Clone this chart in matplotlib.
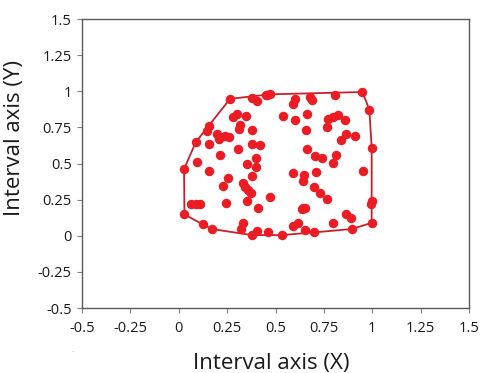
import numpy as np
import matplotlib
matplotlib.use('Agg')
import matplotlib.pyplot as plt

plt.rcParams['font.family'] = ['Open Sans', 'DejaVu Sans']

# sample points
x_vals = [0.265, 0.377, 0.406, 0.449, 0.458, 0.472, 0.279, 0.299, 0.348, 0.317,
          0.313, 0.380, 0.158, 0.148, 0.199, 0.208, 0.239, 0.261, 0.088, 0.158,
          0.308, 0.377, 0.420, 0.213, 0.399, 0.096, 0.351,
          0.949, 0.985, 0.997, 0.807, 0.601, 0.592, 0.678, 0.687, 0.540,
          0.601, 0.664, 0.658, 0.773, 0.799, 0.825, 0.859, 0.765, 0.863,
          0.837, 0.911, 0.661, 0.704, 0.739, 0.811, 0.799,
          0.027, 0.156, 0.256, 0.230, 0.399, 0.377, 0.330, 0.342, 0.356,
          0.373, 0.472, 0.244, 0.354, 0.411, 0.062, 0.088, 0.110, 0.029,
          0.124, 0.172, 0.330, 0.323, 0.377, 0.406, 0.463,
          0.954, 0.592, 0.649, 0.709, 0.642, 0.699, 0.730, 0.765, 0.997,
          0.995, 0.635, 0.652, 0.644, 0.863, 0.890, 0.615, 0.592, 0.799,
          0.997, 0.652, 0.699, 0.894, 0.532]
y_vals = [0.948, 0.955, 0.933, 0.972, 0.975, 0.979, 0.822, 0.840, 0.827, 0.768,
          0.741, 0.730, 0.760, 0.723, 0.706, 0.672, 0.690, 0.683, 0.649, 0.633,
          0.602, 0.633, 0.626, 0.561, 0.538, 0.510, 0.499,
          0.995, 0.872, 0.607, 0.972, 0.948, 0.914, 0.960, 0.942, 0.829,
          0.803, 0.845, 0.730, 0.810, 0.822, 0.834, 0.803, 0.753, 0.702,
          0.661, 0.690, 0.602, 0.550, 0.540, 0.561, 0.506,
          0.462, 0.448, 0.398, 0.344, 0.474, 0.413, 0.363, 0.339, 0.317,
          0.294, 0.270, 0.229, 0.243, 0.194, 0.218, 0.222, 0.222, 0.148,
          0.079, 0.047, 0.090, 0.045, 0.005, 0.035, 0.028,
          0.448, 0.432, 0.422, 0.439, 0.379, 0.339, 0.298, 0.254, 0.240,
          0.222, 0.183, 0.194, 0.190, 0.148, 0.125, 0.090, 0.067, 0.086,
          0.090, 0.040, 0.024, 0.047, 0.005]

tick_vals = [-0.5, -0.25, 0, 0.25, 0.5, 0.75, 1, 1.25, 1.5]
tick_labels = ['-0.5', '-0.25', '0', '0.25', '0.5', '0.75', '1', '1.25', '1.5']


def convex_hull(pts):
    # monotone chain
    pts = sorted(set(pts))
    def cross(o, a, b):
        return (a[0] - o[0]) * (b[1] - o[1]) - (a[1] - o[1]) * (b[0] - o[0])
    lower, upper = [], []
    for p in pts:
        while len(lower) >= 2 and cross(lower[-2], lower[-1], p) <= 0:
            lower.pop()
        lower.append(p)
    for p in reversed(pts):
        while len(upper) >= 2 and cross(upper[-2], upper[-1], p) <= 0:
            upper.pop()
        upper.append(p)
    return lower[:-1] + upper[:-1]


hull = convex_hull(list(zip(x_vals, y_vals)))
hull.append(hull[0])
hx = [p[0] for p in hull]
hy = [p[1] for p in hull]

fig = plt.figure(figsize=(4.83, 3.73), dpi=100)
ax = fig.add_axes([0.170, 0.174, 0.801, 0.775])

ax.plot(hx, hy, color='#c8202a', lw=1.3, zorder=2)
ax.plot(x_vals, y_vals, 'o', color='#ec1c24', ms=5.8, mec='#ec1c24', zorder=3)

ax.set_xlim(-0.5, 1.5)
ax.set_ylim(-0.5, 1.5)
ax.set_xticks(tick_vals)
ax.set_xticklabels(tick_labels)
ax.set_yticks(tick_vals)
ax.set_yticklabels(tick_labels)
ax.tick_params(labelsize=10.5, length=3.5, width=0.8, color='#808080', pad=4,
               labelcolor='#1a1a1a')
ax.tick_params(axis='x', pad=6)
for s in ax.spines.values():
    s.set_color('#595959')
    s.set_linewidth(1.0)

ax.set_xlabel('Interval axis (X)', fontsize=16, color='#1a1a1a')
ax.set_ylabel('Interval axis (Y)', fontsize=16, color='#1a1a1a')
ax.xaxis.set_label_coords(0.49, -0.155, transform=ax.transAxes)
ax.yaxis.set_label_coords(-0.147, 0.588, transform=ax.transAxes)

fig.text(0.148, 0.055, '.', fontsize=6, color='#888888')

fig.savefig('out.png', dpi=100)
